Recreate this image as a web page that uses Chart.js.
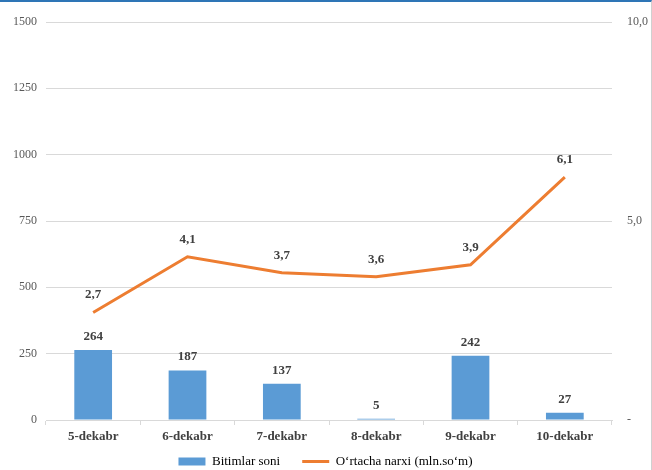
<!DOCTYPE html>
<html>
<head>
<meta charset="utf-8">
<script src="https://cdn.jsdelivr.net/npm/chart.js@4.4.1/dist/chart.umd.min.js"></script>
<style>
  html, body { margin: 0; padding: 0; background: #fff; }
  #wrap { position: relative; width: 652px; height: 470px; box-sizing: border-box;
          border-top: 2px solid #2E75B6; border-right: 1px solid #d0d0d0; }
</style>
</head>
<body>
<div id="wrap"><canvas id="chart" width="651" height="468"></canvas></div>
<script>
const days = ["5-dekabr", "6-dekabr", "7-dekabr", "8-dekabr", "9-dekabr", "10-dekabr"];
const deals = [264, 187, 137, 5, 242, 27];
const avgPrice = [2.7, 4.1, 3.7, 3.6, 3.9, 6.1];

const comma = v => v.toFixed(1).replace(".", ",");

// draws the value labels above bars and points
const valueLabels = {
    id: "valueLabels",
    afterDatasetsDraw(chart) {
        const ctx = chart.ctx;
        ctx.save();
        ctx.font = "bold 13px 'Liberation Serif'";
        ctx.fillStyle = "#404040";
        ctx.textAlign = "center";
        ctx.textBaseline = "bottom";
        chart.data.datasets.forEach((ds, i) => {
            chart.getDatasetMeta(i).data.forEach((el, j) => {
                const txt = ds.type === "line" ? comma(ds.data[j]) : String(ds.data[j]);
                const off = ds.type === "line" ? 11 : 7;
                ctx.fillText(txt, el.x, el.y - off);
            });
        });
        ctx.restore();
    }
};

new Chart("chart", {
    data: {
        labels: days,
        datasets: [{
            type: "bar",
            label: "Bitimlar soni",
            data: deals,
            backgroundColor: "#5B9BD5",
            yAxisID: "y",
            barPercentage: 0.8,
            categoryPercentage: 0.5,
            order: 2
        }, {
            type: "line",
            label: "O\u2018rtacha narxi (mln.so\u2018m)",
            data: avgPrice,
            borderColor: "#ED7D31",
            backgroundColor: "#ED7D31",
            borderWidth: 3,
            pointRadius: 0,
            tension: 0,
            yAxisID: "y1",
            order: 1
        }]
    },
    options: {
        responsive: false,
        animation: false,
        layout: { padding: { top: 20, left: 0, right: 0, bottom: 0 } },
        plugins: {
            tooltip: { enabled: false },
            legend: {
                position: "bottom",
                maxHeight: 24,
                labels: {
                    usePointStyle: true,
                    pointStyleWidth: 27,
                    boxHeight: 8,
                    color: "#595959",
                    font: { family: "'Liberation Serif'", size: 13 },
                    padding: 9,
                    generateLabels(chart) {
                        return chart.data.datasets.map((ds, i) => ({
                            // extra gap after the first entry
                            text: i === 0 ? ds.label + "\u00a0\u00a0\u00a0\u00a0" : ds.label,
                            fillStyle: ds.backgroundColor,
                            strokeStyle: ds.type === "line" ? ds.borderColor : ds.backgroundColor,
                            lineWidth: ds.type === "line" ? 3 : 0,
                            pointStyle: ds.type === "line" ? "line" : "rect",
                            datasetIndex: i
                        }));
                    }
                }
            }
        },
        scales: {
            x: {
                offset: true,
                grid: { offset: true, drawOnChartArea: false, drawTicks: true, tickLength: 5, color: "#d9d9d9" },
                border: { color: "#d9d9d9" },
                ticks: { color: "#404040", font: { family: "'Liberation Serif'", size: 13, weight: "bold" }, padding: 4 },
                afterFit(s) { s.height = 26; }
            },
            y: {
                position: "left",
                min: 0, max: 1500,
                ticks: {
                    stepSize: 250, color: "#595959", font: { family: "'Liberation Serif'", size: 12 }, padding: 9,
                    callback: v => String(v)
                },
                grid: { color: "#d9d9d9", drawTicks: false },
                border: { display: false },
                afterFit(s) { s.width = 46; }
            },
            y1: {
                position: "right",
                min: 0, max: 10,
                ticks: {
                    stepSize: 5, color: "#595959", font: { family: "'Liberation Serif'", size: 12 }, padding: 7,
                    callback: v => v === 0 ? "-" : comma(v)
                },
                grid: { display: false },
                border: { display: false },
                afterFit(s) { s.width = 39; }
            }
        }
    },
    plugins: [valueLabels]
});
</script>
</body>
</html>
